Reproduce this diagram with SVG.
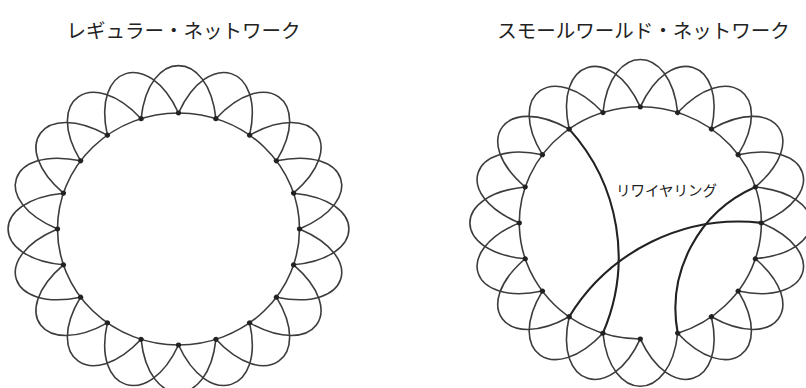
<svg xmlns="http://www.w3.org/2000/svg" width="806" height="388" viewBox="0 0 806 388">
<style>
.title{font-family:"Noto Sans CJK JP","Noto Sans",sans-serif;font-size:19.5px;fill:#222;text-anchor:middle}
.label{font-family:"Noto Sans CJK JP","Noto Sans",sans-serif;font-size:14.5px;fill:#222}
.edges{fill:none;stroke:#3c3c3c;stroke-width:1.6}
.rewire{fill:none;stroke:#222;stroke-width:2.1}
.dot{fill:#222}
</style>
<defs>
<path id="lobe" d="M -37.39 -115.08 C -29.91 -188.85 29.91 -188.85 37.39 -115.08"/>
<circle id="dot" cx="0" cy="-121" r="2.6"/>
</defs>
<rect width="806" height="388" fill="#fff"/>
<text class="title" x="183.5" y="38">レギュラー・ネットワーク</text>
<text class="title" x="643.5" y="38">スモールワールド・ネットワーク</text>

<g id="regular" transform="translate(178.5 229) scale(1 0.9587)">
 <g id="regular-connectors" class="edges">
  <circle r="121"/>
  <use href="#lobe"/>
  <use href="#lobe" transform="rotate(18)"/>
  <use href="#lobe" transform="rotate(36)"/>
  <use href="#lobe" transform="rotate(54)"/>
  <use href="#lobe" transform="rotate(72)"/>
  <use href="#lobe" transform="rotate(90)"/>
  <use href="#lobe" transform="rotate(108)"/>
  <use href="#lobe" transform="rotate(126)"/>
  <use href="#lobe" transform="rotate(144)"/>
  <use href="#lobe" transform="rotate(162)"/>
  <use href="#lobe" transform="rotate(180)"/>
  <use href="#lobe" transform="rotate(198)"/>
  <use href="#lobe" transform="rotate(216)"/>
  <use href="#lobe" transform="rotate(234)"/>
  <use href="#lobe" transform="rotate(252)"/>
  <use href="#lobe" transform="rotate(270)"/>
  <use href="#lobe" transform="rotate(288)"/>
  <use href="#lobe" transform="rotate(306)"/>
  <use href="#lobe" transform="rotate(324)"/>
  <use href="#lobe" transform="rotate(342)"/>
 </g>
 <g id="regular-nodes" class="dot">
  <g id="r-n0"><use href="#dot"/></g>
  <g id="r-n1"><use href="#dot" transform="rotate(18)"/></g>
  <g id="r-n2"><use href="#dot" transform="rotate(36)"/></g>
  <g id="r-n3"><use href="#dot" transform="rotate(54)"/></g>
  <g id="r-n4"><use href="#dot" transform="rotate(72)"/></g>
  <g id="r-n5"><use href="#dot" transform="rotate(90)"/></g>
  <g id="r-n6"><use href="#dot" transform="rotate(108)"/></g>
  <g id="r-n7"><use href="#dot" transform="rotate(126)"/></g>
  <g id="r-n8"><use href="#dot" transform="rotate(144)"/></g>
  <g id="r-n9"><use href="#dot" transform="rotate(162)"/></g>
  <g id="r-n10"><use href="#dot" transform="rotate(180)"/></g>
  <g id="r-n11"><use href="#dot" transform="rotate(198)"/></g>
  <g id="r-n12"><use href="#dot" transform="rotate(216)"/></g>
  <g id="r-n13"><use href="#dot" transform="rotate(234)"/></g>
  <g id="r-n14"><use href="#dot" transform="rotate(252)"/></g>
  <g id="r-n15"><use href="#dot" transform="rotate(270)"/></g>
  <g id="r-n16"><use href="#dot" transform="rotate(288)"/></g>
  <g id="r-n17"><use href="#dot" transform="rotate(306)"/></g>
  <g id="r-n18"><use href="#dot" transform="rotate(324)"/></g>
  <g id="r-n19"><use href="#dot" transform="rotate(342)"/></g>
 </g>
</g>

<g id="smallworld" transform="translate(640.3 222.9) scale(1 0.9587)">
 <g id="smallworld-connectors" class="edges">
  <path d="M 0 121 A 121 121 0 1 1 37.39 115.08"/>
  <use href="#lobe"/>
  <use href="#lobe" transform="rotate(18)"/>
  <use href="#lobe" transform="rotate(36)"/>
  <use href="#lobe" transform="rotate(54)"/>
  <use href="#lobe" transform="rotate(72)"/>
  <use href="#lobe" transform="rotate(90)"/>
  <use href="#lobe" transform="rotate(108)"/>
  <use href="#lobe" transform="rotate(126)"/>
  <use href="#lobe" transform="rotate(144)"/>
  <use href="#lobe" transform="rotate(162)"/>
  <use href="#lobe" transform="rotate(180)"/>
  <use href="#lobe" transform="rotate(198)"/>
  <use href="#lobe" transform="rotate(216)"/>
  <use href="#lobe" transform="rotate(234)"/>
  <use href="#lobe" transform="rotate(252)"/>
  <use href="#lobe" transform="rotate(270)"/>
  <use href="#lobe" transform="rotate(288)"/>
  <use href="#lobe" transform="rotate(306)"/>
  <use href="#lobe" transform="rotate(324)"/>
  <use href="#lobe" transform="rotate(342)"/>
 </g>
</g>
<g id="rewiring-connectors" class="rewire">
 <path d="M 569.2 129.1 A 191 191 0 0 1 602.9 333.2"/>
 <path d="M 569.2 316.7 A 199 199 0 0 1 761.3 222.9"/>
 <path d="M 755.4 187.05 A 133 133 0 0 0 677.7 333.2"/>
</g>
<g transform="translate(640.3 222.9) scale(1 0.9587)">
 <g id="smallworld-nodes" class="dot">
  <g id="s-n0"><use href="#dot"/></g>
  <g id="s-n1"><use href="#dot" transform="rotate(18)"/></g>
  <g id="s-n2"><use href="#dot" transform="rotate(36)"/></g>
  <g id="s-n3"><use href="#dot" transform="rotate(54)"/></g>
  <g id="s-n4"><use href="#dot" transform="rotate(72)"/></g>
  <g id="s-n5"><use href="#dot" transform="rotate(90)"/></g>
  <g id="s-n6"><use href="#dot" transform="rotate(108)"/></g>
  <g id="s-n7"><use href="#dot" transform="rotate(126)"/></g>
  <g id="s-n8"><use href="#dot" transform="rotate(144)"/></g>
  <g id="s-n9"><use href="#dot" transform="rotate(162)"/></g>
  <g id="s-n10"><use href="#dot" transform="rotate(180)"/></g>
  <g id="s-n11"><use href="#dot" transform="rotate(198)"/></g>
  <g id="s-n12"><use href="#dot" transform="rotate(216)"/></g>
  <g id="s-n13"><use href="#dot" transform="rotate(234)"/></g>
  <g id="s-n14"><use href="#dot" transform="rotate(252)"/></g>
  <g id="s-n15"><use href="#dot" transform="rotate(270)"/></g>
  <g id="s-n16"><use href="#dot" transform="rotate(288)"/></g>
  <g id="s-n17"><use href="#dot" transform="rotate(306)"/></g>
  <g id="s-n18"><use href="#dot" transform="rotate(324)"/></g>
  <g id="s-n19"><use href="#dot" transform="rotate(342)"/></g>
 </g>
</g>
<text class="label" x="616" y="195.5">リワイヤリング</text>
</svg>
